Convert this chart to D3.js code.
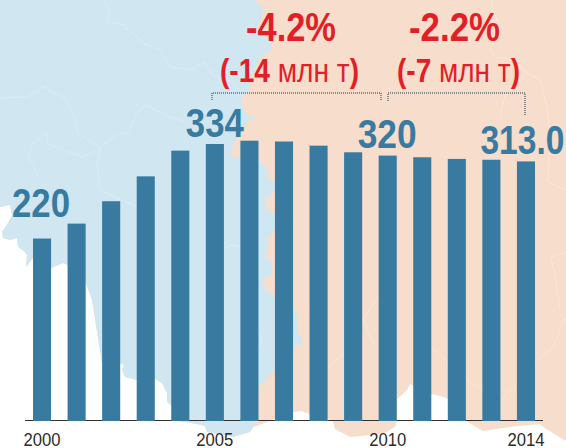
<!DOCTYPE html>
<html>
<head>
<meta charset="utf-8">
<script src="https://cdn.jsdelivr.net/npm/d3@7"></script>
<style>
html, body { margin: 0; padding: 0; background: #fff; overflow: hidden; }
svg { display: block; }
text { font-family: "Liberation Sans", sans-serif; }
</style>
</head>
<body>
<script>
var years = [2000, 2001, 2002, 2003, 2004, 2005, 2006, 2007, 2008, 2009, 2010, 2011, 2012, 2013, 2014]
var values = [220, 238, 265, 295, 326, 334, 338, 337, 332, 324, 320, 318, 316, 315, 313]
var tickYears = [2000, 2005, 2010, 2014]
var labelYears = [2000, 2005, 2010, 2014]
var labelTexts = ["220", "334", "320", "313.0"]

var width = 566
var height = 448

// map behind the chart, traced by eye
var boundary = [[255,0],[260,5],[263,9],[262,17],[257,25],[260,33],[272,42],[272,50],[263,55],[257,63],[252,77],[249,91],[242,97],[242,107],[247,115],[255,117],[248,122],[243,127],[237,133],[233,147],[230,153],[233,157],[240,158],[258,162],[262,162],[267,168],[268,180],[275,181],[275,190],[267,198],[265,208],[275,214],[275,230],[268,237],[268,248],[265,255],[270,260],[273,273],[263,280],[262,283],[270,293],[275,297],[293,308],[298,318],[297,330],[303,342],[295,347],[293,348],[275,370],[268,375],[267,380],[258,386],[253,421],[253,427]]
var coastWest = [[0,207],[10,205],[12,215],[8,223],[2,232],[3,238],[10,240],[17,238],[18,247],[23,250],[27,255],[26,267],[33,258],[51,268],[63,263],[68,265],[86,283],[92,300],[102,363],[120,363],[124,365],[122,370],[125,377],[137,380],[155,379],[162,383],[167,393],[167,402],[171,405],[178,421],[197,424],[205,426],[207,432],[233,437],[250,432],[253,427]]
var coastEast = [[253,427],[270,421],[293,412],[301,411],[310,414],[328,419],[333,421],[335,429],[350,437],[383,434],[395,427],[397,421],[397,399],[407,390],[410,384],[431,394],[441,396],[448,399],[466,421],[483,431],[510,427],[540,424],[546,429],[566,441]]

// faint region borders
var bordersBlue = [
  [[104,0],[108,7],[110,12],[107,22],[125,25],[127,30],[135,35],[143,43],[160,50],[170,67],[192,70],[204,62],[213,75],[233,82],[238,90]],
  [[0,98],[27,97],[43,87],[65,98],[73,113],[78,133],[100,147],[120,133],[128,133],[137,113],[145,105],[170,117],[187,122]],
  [[100,148],[83,157],[63,150],[47,143],[48,132],[33,143],[28,157],[38,175],[30,177]],
  [[100,148],[97,163],[100,190],[137,207]],
  [[222,250],[232,245],[240,247]],
  [[258,330],[262,340],[258,350]]
]
var bordersPeach = [
  [[491,0],[493,10],[500,27],[490,50],[496,57],[516,60],[523,70],[540,80],[546,103],[550,133],[548,182],[566,190]],
  [[523,75],[506,93],[503,103],[500,118]],
  [[566,314],[553,347],[536,361],[516,384],[500,401]],
  [[431,347],[473,384],[500,401]],
  [[566,252],[551,257],[555,274],[560,310]],
  [[380,294],[363,319],[373,344]],
  [[328,367],[343,354]]
]

var svg = d3.select("body").append("svg")
    .attr("width", width)
    .attr("height", height)

var pathLine = d3.line()

var land = [[0,0],[566,0]].concat([[566,441]], coastEast.slice().reverse(), coastWest.slice().reverse())
var blue = [[0,0]].concat(boundary, coastWest.slice().reverse())

svg.append("path").attr("d", pathLine(land) + "Z").attr("fill", "#f6ddcc")
svg.append("path").attr("d", pathLine(blue) + "Z").attr("fill", "#d0e6f1")

bordersBlue.forEach(function(b){
    svg.append("path").attr("d", pathLine(b)).attr("fill", "none")
        .attr("stroke", "#dcedf5").attr("stroke-width", 0.8)
})
bordersPeach.forEach(function(b){
    svg.append("path").attr("d", pathLine(b)).attr("fill", "none")
        .attr("stroke", "#fae9dd").attr("stroke-width", 0.8)
})

var x = d3.scaleBand()
    .domain(years)
    .range([33, 535])
    .paddingInner(0.477)
    .paddingOuter(0)

var y = d3.scaleLinear()
    .domain([0, 334])
    .range([421, 144])

// baseline
svg.append("line")
    .attr("x1", 25).attr("x2", 543)
    .attr("y1", 420.5).attr("y2", 420.5)
    .attr("stroke", "#33302e").attr("stroke-width", 1.2)

svg.selectAll("rect.bar")
    .data(years)
    .enter().append("rect")
    .attr("class", "bar")
    .attr("x", function(d){ return x(d) })
    .attr("width", x.bandwidth())
    .attr("y", function(d, i){ return y(values[i]) })
    .attr("height", function(d, i){ return y(0) - y(values[i]) })
    .attr("fill", "#387aa0")

var axis = d3.axisBottom(x).tickValues(tickYears).tickSize(0).tickPadding(0)
var axisG = svg.append("g")
    .attr("transform", "translate(0,432)")
    .call(axis)
axisG.select(".domain").remove()
axisG.selectAll("text")
    .attr("dy", "0.71em")
    .attr("textLength", 37)
    .attr("lengthAdjust", "spacingAndGlyphs")
    .style("font-family", '"Liberation Sans", sans-serif')
    .style("font-size", "19px")
    .attr("fill", "#2b2b2b")

// value labels above the bars, squeezed because there is no condensed font here
var labelShift = { 2000: -1, 2005: 0, 2010: -0.5, 2014: -3.5 }
var labelLift = { 2000: 22, 2005: 7, 2010: 8, 2014: 7 }
var labelWidth = { 2000: 58, 2005: 58, 2010: 59, 2014: 84 }
svg.selectAll("text.val")
    .data(labelYears)
    .enter().append("text")
    .attr("class", "val")
    .attr("text-anchor", "middle")
    .attr("x", function(d){ return x(d) + x.bandwidth()/2 + labelShift[d] })
    .attr("y", function(d){ return y(values[years.indexOf(d)]) - labelLift[d] })
    .attr("font-size", 41)
    .attr("font-weight", "bold")
    .attr("textLength", function(d){ return labelWidth[d] })
    .attr("lengthAdjust", "spacingAndGlyphs")
    .attr("fill", "#387aa0")
    .text(function(d, i){ return labelTexts[i] })

// change annotations
function note(cx, pct, pctWidth, cx2, amount, amountWidth){
    svg.append("text")
        .attr("x", cx).attr("y", 41)
        .attr("text-anchor", "middle")
        .attr("font-size", 40).attr("font-weight", "bold")
        .attr("textLength", pctWidth)
        .attr("lengthAdjust", "spacingAndGlyphs")
        .attr("fill", "#e21f26")
        .text(pct)
    var t = svg.append("text")
        .attr("x", cx2).attr("y", 82)
        .attr("text-anchor", "middle")
        .attr("font-size", 33)
        .attr("textLength", amountWidth)
        .attr("lengthAdjust", "spacingAndGlyphs")
        .attr("fill", "#e21f26")
    t.append("tspan").attr("font-weight", "bold").text("(" + amount)
    t.append("tspan").text(" млн т")
    t.append("tspan").attr("font-weight", "bold").text(")")
}
note(291, "-4.2%", 90, 289.5, "-14", 139)
note(454.5, "-2.2%", 91, 458.5, "-7", 123)

// dotted brackets
function bracket(x1, x2, leftEnd, rightEnd){
    svg.append("path")
        .attr("d", "M" + x1 + " " + leftEnd + "V93H" + x2 + "V" + rightEnd)
        .attr("fill", "none")
        .attr("stroke", "#8a8a8a")
        .attr("stroke-width", 2)
        .attr("stroke-dasharray", "1,1")
}
bracket(212, 381, 100, 101)
bracket(388, 525, 101, 115)
</script>
</body>
</html>
